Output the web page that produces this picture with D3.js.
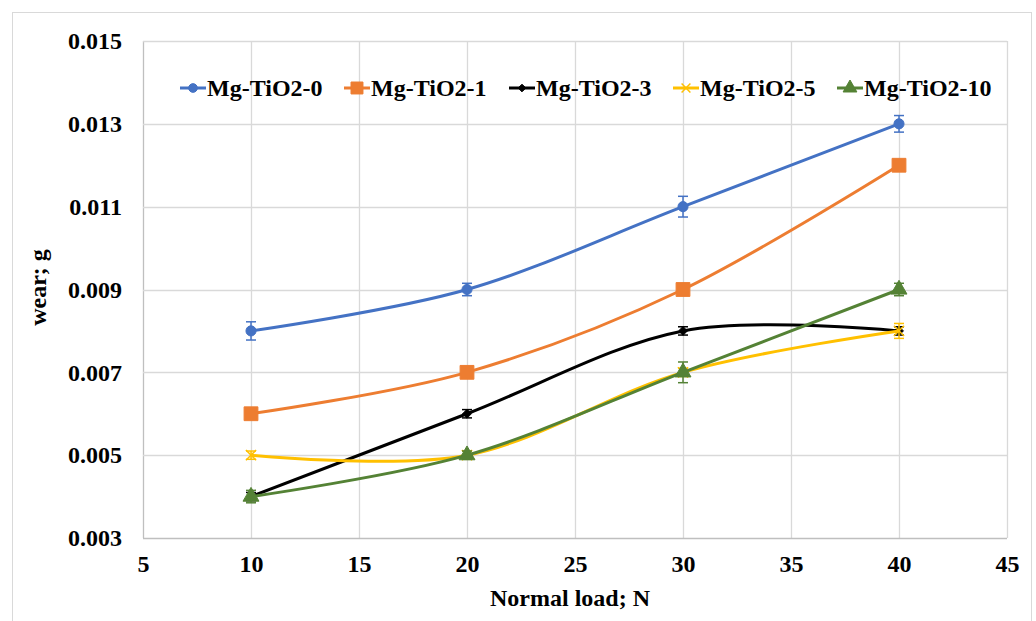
<!DOCTYPE html>
<html>
<head>
<meta charset="utf-8">
<script src="https://cdn.jsdelivr.net/npm/d3@7/dist/d3.min.js"></script>
<style>
body { margin: 0; background: #fff; }
text { font-family: "Liberation Serif", "Times New Roman", serif; font-weight: bold; fill: #000; }
</style>
</head>
<body>
<div id="chart-area"></div>
<script>
// data
var loads = [10, 20, 30, 40]
var seriesNames = ['Mg-TiO2-0', 'Mg-TiO2-1', 'Mg-TiO2-3', 'Mg-TiO2-5', 'Mg-TiO2-10']
var wear0 = [0.008, 0.009, 0.011, 0.013]
var wear1 = [0.006, 0.007, 0.009, 0.012]
var wear3 = [0.004, 0.006, 0.008, 0.008]
var wear5 = [0.005, 0.005, 0.007, 0.008]
var wear10 = [0.004, 0.005, 0.007, 0.009]
var err0 = [0.00022, 0.00015, 0.00025, 0.0002]
var err1 = [0.0001, 0.0001, 0.0001, 0.0001]
var err3 = [0.0001, 0.0001, 0.0001, 0.0001]
var err5 = [0.0001, 0.0001, 0.0001, 0.00018]
var err10 = [0.00015, 0.0001, 0.00025, 0.00015]
var xTicks = [5, 10, 15, 20, 25, 30, 35, 40, 45]
var yTicks = [0.003, 0.005, 0.007, 0.009, 0.011, 0.013, 0.015]

var colors = ['#4472c4', '#ed7d31', '#000000', '#ffc000', '#548235']
var symbols = [d3.symbolCircle, d3.symbolSquare, d3.symbolDiamond2, d3.symbolX, d3.symbolTriangle]
var symSize = [80, 190, 50, 70, 110]
var allWear = [wear0, wear1, wear3, wear5, wear10]
var allErr = [err0, err1, err3, err5, err10]

var margin = {left: 143, right: 29, top: 41, bottom: 83}
var W = 1036, H = 621
var width = W - margin.left - margin.right
var height = H - margin.top - margin.bottom

var svg = d3.select('#chart-area').append('svg')
	.attr('width', W)
	.attr('height', H)

// outer chart border
svg.append('rect')
	.attr('x', 12.5).attr('y', 12.5)
	.attr('width', 1019).attr('height', 620)
	.attr('fill', 'none')
	.attr('stroke', '#d9d9d9')

var group = svg.append('g')
	.attr('transform', 'translate(' + margin.left + ',' + margin.top + ')')

var xScale = d3.scaleLinear().domain([5, 45]).range([0, width])
var yScale = d3.scaleLinear().domain([0.003, 0.015]).range([height, 0])

// gridlines
group.append('g')
	.selectAll('line.v')
	.data(xTicks)
	.enter().append('line')
	.attr('x1', d => Math.round(xScale(d)) + 0.5)
	.attr('x2', d => Math.round(xScale(d)) + 0.5)
	.attr('y1', 0).attr('y2', height)
	.attr('stroke', d => d == 5 ? '#bfbfbf' : '#d9d9d9')
	.attr('stroke-width', 1.3)

group.append('g')
	.selectAll('line.h')
	.data(yTicks)
	.enter().append('line')
	.attr('y1', d => Math.round(yScale(d)) + 0.5)
	.attr('y2', d => Math.round(yScale(d)) + 0.5)
	.attr('x1', 0).attr('x2', width)
	.attr('stroke', d => d == 0.003 ? '#bfbfbf' : '#d9d9d9')
	.attr('stroke-width', 1.3)

// axes (labels only)
var xAxis = d3.axisBottom(xScale).tickValues(xTicks).tickSize(0).tickPadding(17).tickFormat(d3.format('d'))
var gx = group.append('g').attr('transform', 'translate(0,' + height + ')').call(xAxis)
gx.select('.domain').remove()
gx.selectAll('text').style('font-size', '24px').style('font-family', '"Liberation Serif", serif')

var yAxis = d3.axisLeft(yScale).tickValues(yTicks).tickSize(0).tickPadding(21).tickFormat(d3.format('.3f'))
var gy = group.append('g').call(yAxis)
gy.select('.domain').remove()
gy.selectAll('text').style('font-size', '24px').style('font-family', '"Liberation Serif", serif')

// axis titles
group.append('text')
	.attr('x', width / 2 - 5)
	.attr('y', height + 68)
	.attr('font-size', '24px')
	.attr('text-anchor', 'middle')
	.text('Normal load; N')

group.append('text')
	.attr('transform', 'rotate(-90)')
	.attr('x', -height / 2 + 2)
	.attr('y', -97)
	.attr('font-size', '24px')
	.attr('text-anchor', 'middle')
	.text('wear; g')

var line = d3.line()
	.x(d => xScale(d.x))
	.y(d => yScale(d.y))
	.curve(d3.curveCardinal.tension(0))

seriesNames.forEach(function(name, s) {
	var pts = loads.map((x, i) => ({x: x, y: allWear[s][i], e: allErr[s][i]}))
	var sg = group.append('g')

	sg.append('path')
		.datum(pts)
		.attr('d', line)
		.attr('fill', 'none')
		.attr('stroke', colors[s])
		.attr('stroke-width', 3)

	// error bars
	var eb = sg.selectAll('g.err').data(pts).enter().append('g')
	eb.append('line')
		.attr('x1', d => xScale(d.x)).attr('x2', d => xScale(d.x))
		.attr('y1', d => yScale(d.y - d.e)).attr('y2', d => yScale(d.y + d.e))
		.attr('stroke', colors[s]).attr('stroke-width', 1.5)
	eb.selectAll('line.cap').data(d => [d.y - d.e, d.y + d.e].map(v => ({x: d.x, v: v})))
		.enter().append('line')
		.attr('x1', d => xScale(d.x) - 5).attr('x2', d => xScale(d.x) + 5)
		.attr('y1', d => yScale(d.v)).attr('y2', d => yScale(d.v))
		.attr('stroke', colors[s]).attr('stroke-width', 1.5)

	sg.selectAll('path.mk').data(pts).enter().append('path')
		.attr('transform', d => 'translate(' + xScale(d.x) + ',' + yScale(d.y) + ')')
		.attr('d', d3.symbol().type(symbols[s]).size(symSize[s]))
		.attr('fill', colors[s])
		.attr('stroke', colors[s])
		.attr('stroke-width', s == 3 ? 1.5 : 1)
})

// legend
var legX = [180, 344, 509, 673, 837]
var legend = svg.append('g').attr('transform', 'translate(0,88)')
seriesNames.forEach(function(name, s) {
	var lg = legend.append('g').attr('transform', 'translate(' + legX[s] + ',0)')
	lg.append('line')
		.attr('x1', 0).attr('x2', 26).attr('y1', 0).attr('y2', 0)
		.attr('stroke', colors[s]).attr('stroke-width', 3)
	lg.append('path')
		.attr('transform', 'translate(13,0)')
		.attr('d', d3.symbol().type(symbols[s]).size(symSize[s] * 0.75))
		.attr('fill', colors[s])
		.attr('stroke', colors[s])
		.attr('stroke-width', s == 3 ? 1.5 : 1)
	lg.append('text')
		.attr('x', 27)
		.attr('y', 8)
		.attr('font-size', '24px')
		.text(name)
})
</script>
</body>
</html>
